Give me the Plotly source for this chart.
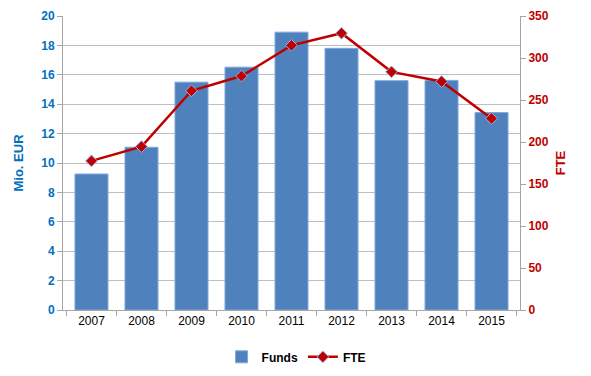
import plotly.graph_objects as go

years = ["2007", "2008", "2009", "2010", "2011", "2012", "2013", "2014", "2015"]
funds = [9.25, 11.07, 15.5, 16.52, 18.9, 17.8, 15.6, 15.62, 13.43]
fte = [177.5, 194.5, 261, 278.5, 315, 329.5, 283.5, 272, 228]

fig = go.Figure()
fig.add_trace(go.Bar(
    x=years, y=funds, name="Funds", width=0.66,
    marker=dict(color="#4F81BD", line=dict(color="#7FA7D9", width=1)),
    yaxis="y",
))
fig.add_trace(go.Scatter(
    x=years, y=fte, name="FTE", mode="lines+markers",
    line=dict(color="#C00000", width=2.5),
    marker=dict(symbol="diamond", size=9, color="#C00000",
                line=dict(color="#8EB4E3", width=1)),
    yaxis="y2",
))

fig.update_layout(
    width=591, height=376,
    margin=dict(l=63, r=71, t=16, b=66, autoexpand=False),
    plot_bgcolor="white", paper_bgcolor="white",
    font=dict(family="Liberation Sans, Arial, sans-serif", size=12, color="black"),
    showlegend=True,
    legend=dict(orientation="h", x=0.51, xanchor="center", y=-0.11, yanchor="top",
                font=dict(size=12, color="black", weight="bold"), itemwidth=30,
                tracegroupgap=0),
    xaxis=dict(
        showline=True, linecolor="#A6A6A6", linewidth=1,
        ticks="outside", ticklen=5, tickcolor="#A6A6A6", tickson="boundaries",
        tickfont=dict(size=12, color="black"),
        showgrid=False, automargin=False,
    ),
    yaxis=dict(
        range=[0, 20], dtick=2, showgrid=True, gridcolor="#BFBFBF", gridwidth=1,
        showline=True, linecolor="#A6A6A6", ticks="outside", ticklen=5, tickcolor="#A6A6A6",
        tickfont=dict(size=12, color="#0070C0", weight="bold"),
        title=dict(text="Mio. EUR", font=dict(size=13, color="#0070C0", weight="bold"), standoff=14),
        zeroline=False, automargin=False,
    ),
    yaxis2=dict(
        range=[0, 350], dtick=50, overlaying="y", side="right", showgrid=False,
        showline=True, linecolor="#A6A6A6", ticks="outside", ticklen=5, tickcolor="#A6A6A6",
        tickfont=dict(size=12, color="#C00000", weight="bold"),
        title=dict(text="FTE", font=dict(size=13, color="#C00000", weight="bold"), standoff=8),
        zeroline=False, automargin=False,
    ),
)

fig.write_html("out.html", config={"displayModeBar": False},
               post_script="document.body.style.margin='0';")
